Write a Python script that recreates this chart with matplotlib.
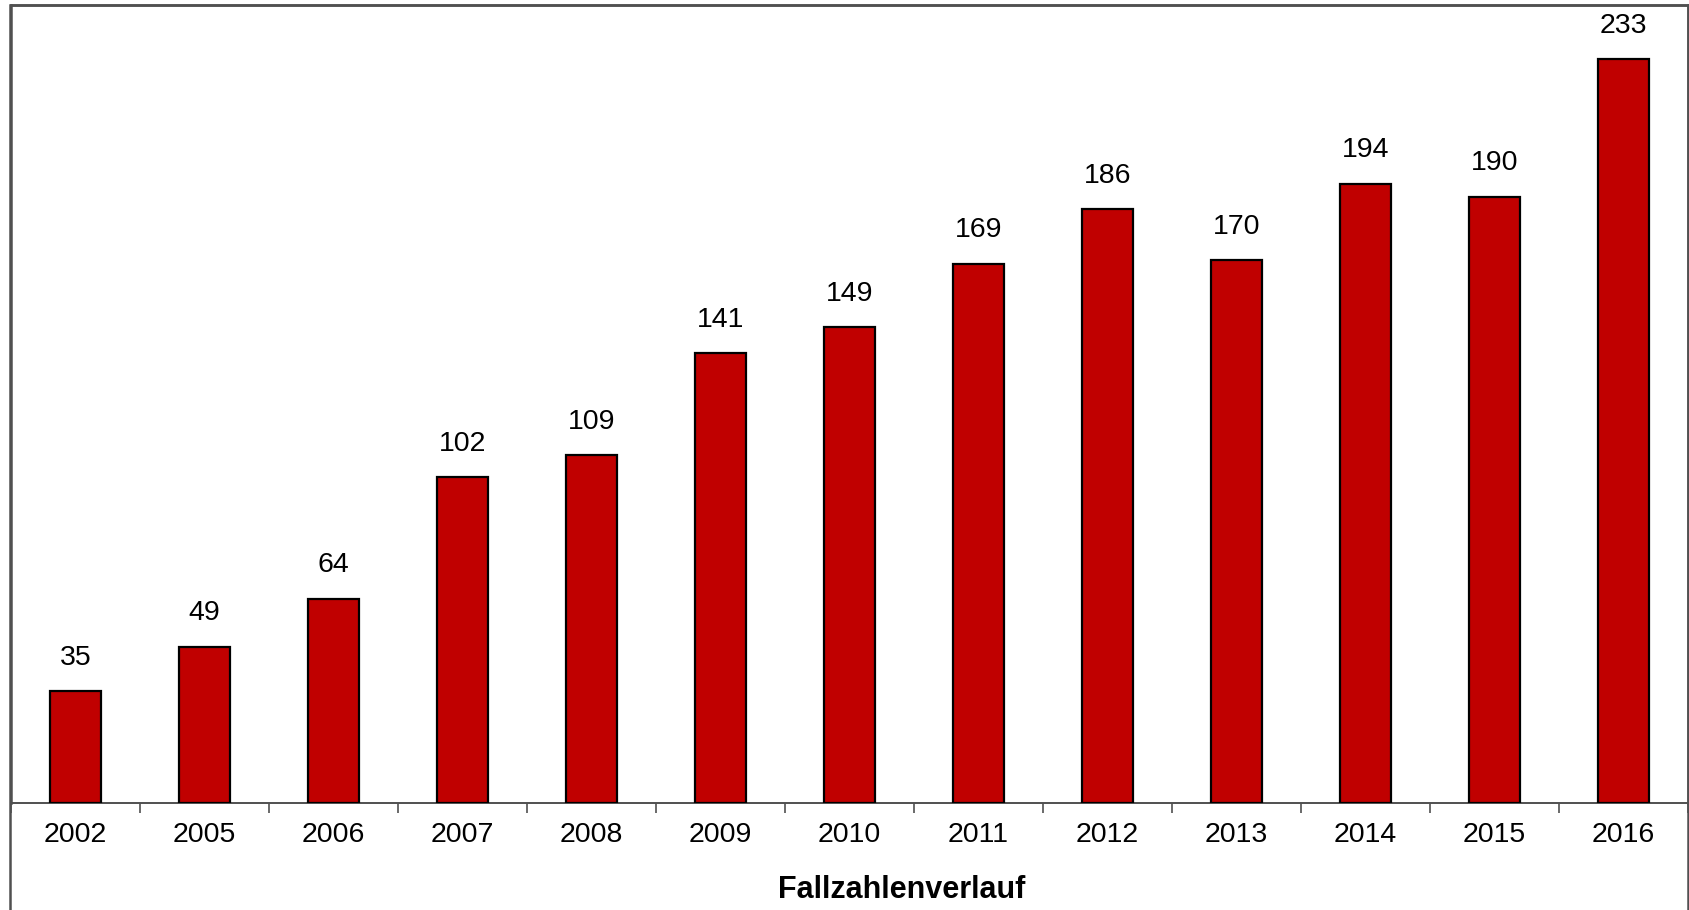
"""
Fallzahlenverlauf 2002-2016 als Säulendiagramm
"""

import matplotlib
matplotlib.use("Agg")
import matplotlib.pyplot as plt
from matplotlib.patches import Rectangle
import numpy as np

jahre = ["2002", "2005", "2006", "2007", "2008", "2009", "2010",
         "2011", "2012", "2013", "2014", "2015", "2016"]
fallzahlen = [35, 49, 64, 102, 109, 141, 149, 169, 186, 170, 194, 190, 233]

plt.rcParams["font.family"] = ["Liberation Sans", "DejaVu Sans"]

W, H = 1690, 910
fig = plt.figure(figsize=(W / 100, H / 100), dpi=100)
ax = fig.add_axes([11 / W, 1 - 803 / H, (1688 - 11) / W, (803 - 5) / H])

x = np.arange(len(jahre))
ax.bar(x, fallzahlen, width=0.4, color="#C00000",
       edgecolor="black", linewidth=1.6, zorder=3)

# Beschriftung der Säulen
for xi, v in zip(x, fallzahlen):
    ax.annotate(str(v), (xi, v), xytext=(0, 24), textcoords="offset points",
                ha="center", va="center", fontsize=20.5, color="black")

ax.set_xlim(-0.5, len(jahre) - 0.5)
ax.set_ylim(0, 250)
ax.set_yticks([])

ax.set_xticks(x)
ax.set_xticklabels(jahre, fontsize=20.5)
ax.set_xticks(np.arange(len(jahre) + 1) - 0.5, minor=True)
ax.tick_params(axis="x", which="major", length=0, pad=14)
ax.tick_params(axis="x", which="minor", length=7, width=1.2,
               color="#505050", direction="out")

for side in ["left", "top", "right"]:
    ax.spines[side].set_color("#505050")
    ax.spines[side].set_linewidth(1.8)
ax.spines["bottom"].set_color("#505050")
ax.spines["bottom"].set_linewidth(1.4)

# Rahmen des Diagramms (unten abgeschnitten)
fig.patches.append(Rectangle((10 / W, -0.05), (1688 - 10) / W, 1.05 - 5 / H,
                             transform=fig.transFigure, fill=False,
                             edgecolor="#505050", linewidth=1.8))

fig.text(902 / W, 1 - 890 / H, "Fallzahlenverlauf", ha="center",
         va="center", fontsize=22, fontweight="bold")

plt.savefig("out.png", dpi=100)
